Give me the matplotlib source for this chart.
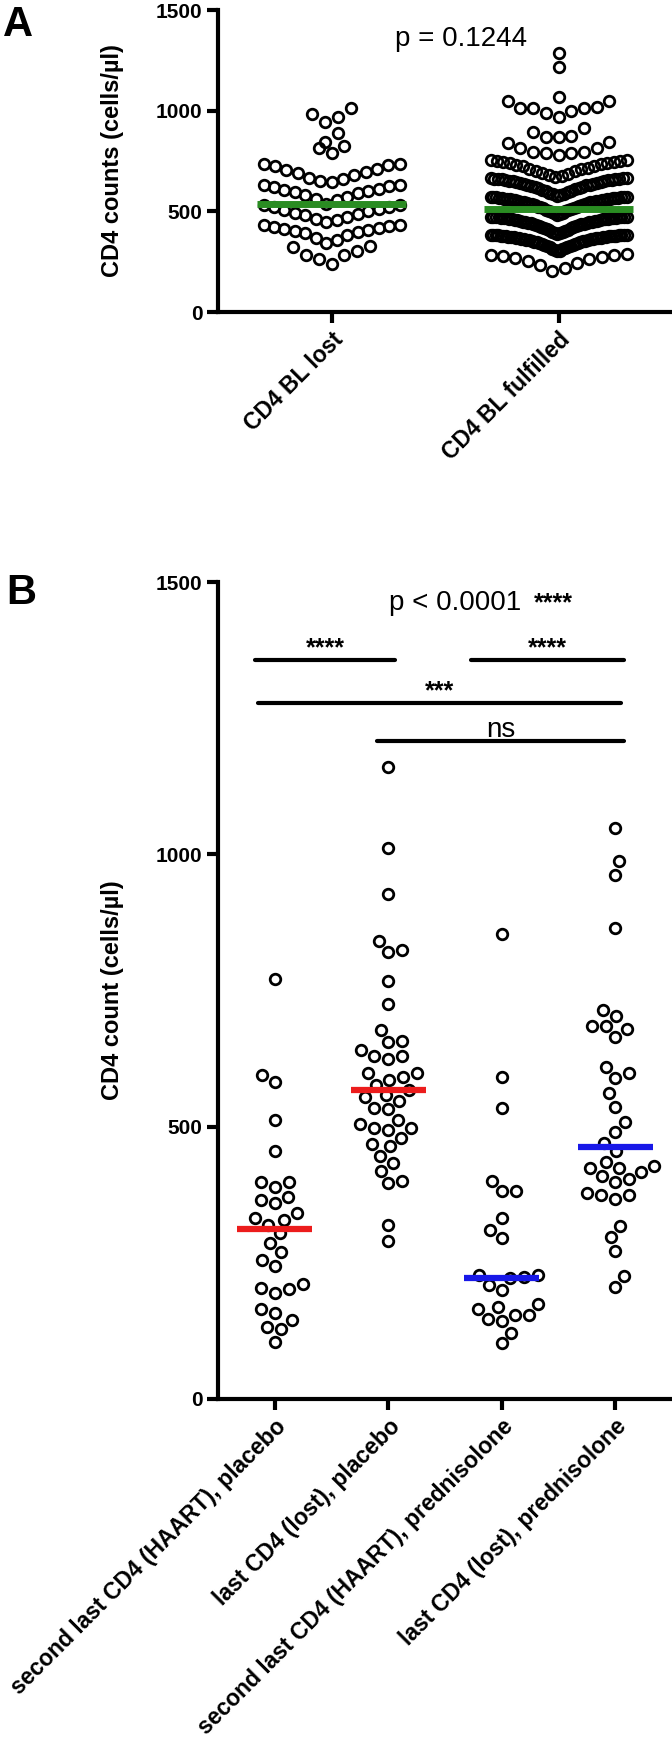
import numpy as np
import matplotlib
matplotlib.use("Agg")
import matplotlib.pyplot as plt

plt.rcParams['font.family'] = ['Liberation Sans', 'DejaVu Sans']

# ---- panel A: CD4 counts (cells/ul)
a_labels = ["CD4 BL lost", "CD4 BL fulfilled"]
a_lost = [1011, 983, 967, 945, 887, 846, 826, 813, 788,
          733, 734, 726, 711, 697, 681, 662, 645, 651, 668, 688, 706, 728,
          631, 624, 612, 601, 590, 572, 555, 537, 560, 580, 596, 608, 620, 629,
          531, 524, 512, 500, 488, 472, 455, 448, 462, 480, 494, 508, 520, 530,
          432, 428, 418, 408, 396, 380, 360, 341, 370, 390, 404, 414, 424, 431,
          330, 305, 283, 238, 265, 283, 322]
a_fulfilled = [1288, 1219, 1070,
               1048, 1020, 1011, 1000, 970, 987, 1011, 1011, 1046,
               912, 895, 874, 870, 870,
               846, 838, 813, 813, 797, 788, 780, 788, 797,
               755, 752, 748, 744, 740, 735, 730, 724, 716, 708, 700, 690, 680, 672,
               676, 686, 698, 712, 726, 738, 746, 754,
               664, 662, 659, 655, 651, 646, 641, 636, 630, 622, 614, 605, 595, 585,
               578, 582, 592, 602, 612, 621, 629, 636, 643, 649, 654, 658, 661, 663,
               667, 665, 660, 653, 644, 633, 618, 600, 588, 625,
               572, 571, 569, 567, 564, 561, 558, 555, 552, 548, 544, 540, 535, 530,
               524, 517, 509, 500, 490, 482, 486, 495, 504, 512, 520, 527, 533, 538,
               543, 547, 551, 554, 557, 560, 563, 566, 568, 570,
               573, 571, 565, 559, 549, 537, 521, 505, 493, 515, 546, 562,
               472, 471, 470, 469, 467, 465, 463, 461, 458, 455, 452, 449, 446, 443,
               440, 437, 433, 429, 424, 419, 413, 406, 399, 392, 388, 390, 395, 402,
               409, 416, 421, 426, 431, 435, 439, 442, 445, 448, 451, 454, 457, 460,
               462, 464, 466, 468, 469, 470, 471, 472, 473, 474,
               382, 381, 380, 379, 378, 376, 374, 372, 370, 368, 365, 362, 359, 356,
               352, 348, 343, 338, 332, 325, 317, 309, 302, 305, 313, 321, 328, 335,
               341, 346, 350, 354, 358, 361, 364, 367, 369, 371, 373, 375, 377, 378,
               379, 380, 381, 383,
               384, 382, 377, 366, 351, 330, 312, 340,
               288, 285, 279, 268, 252, 232, 203, 218, 245, 262, 274, 283]
a_p = "p = 0.1244"

# ---- panel B
b_labels = ["second last CD4 (HAART), placebo", "last CD4 (lost), placebo",
            "second last CD4 (HAART), prednisolone", "last CD4 (lost), prednisolone"]
b_sec_placebo = [771, 594, 582, 512, 456, 399, 390, 398, 359, 365, 371, 341, 332, 329,
                 319, 304, 286, 269, 255, 245, 203, 194, 202, 211, 157, 145, 166, 132,
                 129, 105]
b_last_placebo = [1161, 1011, 928, 840, 824, 820, 767, 725, 678, 657, 655, 640, 629, 629,
                  624, 599, 598, 592, 586, 576, 567, 558, 555, 548, 535, 532, 512, 505,
                  498, 497, 493, 480, 468, 464, 446, 433, 419, 401, 396, 319, 290]
b_sec_pred = [853, 592, 535, 400, 381, 381, 332, 310, 295, 228, 222, 200, 210, 224,
              228, 168, 154, 146, 143, 154, 165, 175, 122, 102]
b_last_pred = [1048, 987, 962, 865, 714, 703, 685, 685, 679, 664, 610, 599, 590, 561,
               537, 508, 490, 470, 455, 436, 428, 424, 424, 417, 410, 403, 399, 379,
               375, 374, 367, 318, 297, 272, 226, 205]
b_p = "p < 0.0001"
b_p_stars = "****"
b_comp_text = ["****", "****", "***", "ns"]

# layout of comparison bars (x span, height)
bar_spans = [(-0.17, 1.06), (1.73, 3.08), (-0.15, 3.05), (0.9, 3.08)]
bar_y = [1357, 1357, 1278, 1208]

W, H = 672, 1739
fig = plt.figure(figsize=(W / 100, H / 100), dpi=100)


def px_scale(ax):
    p0 = ax.transData.transform((0, 0))
    p1 = ax.transData.transform((1, 1))
    return p1[0] - p0[0], p1[1] - p0[1]


def row_layout(vals, origin, step, spacing, half):
    # graphpad style rows: values binned, lowest in middle of each row
    vals = np.asarray(vals, float)
    xs = np.zeros(len(vals))
    bins = np.floor((vals - origin) / step).astype(int)
    for b in np.unique(bins):
        idx = np.where(bins == b)[0]
        idx = idx[np.argsort(vals[idx], kind='stable')]
        n = len(idx)
        s = spacing if n < 2 else min(spacing, 2 * half / (n - 1))
        slots = (np.arange(n) - (n - 1) / 2) * s
        order = np.argsort(np.abs(slots) + 1e-9 * np.arange(n))
        xs[idx] = slots[order]
    return xs


def swarm(vals, ypx, dpx, maxpx):
    vals = np.asarray(vals, float)
    xs = np.zeros(len(vals))
    placed = []
    side = 1
    for i in np.argsort(vals):
        y = vals[i] * ypx
        best = 0
        for k in range(0, int(maxpx) + 1):
            cands = [0] if k == 0 else [side * k, -side * k]
            ok = None
            for off in cands:
                if all((off - px) ** 2 + (y - py) ** 2 >= dpx ** 2 for px, py in placed):
                    ok = off
                    break
            if ok is not None:
                best = ok
                break
        if best != 0:
            side = -np.sign(best)
        xs[i] = best
        placed.append((best, y))
    return xs


def style(ax):
    for s in ['top', 'right']:
        ax.spines[s].set_visible(False)
    for s in ['left', 'bottom']:
        ax.spines[s].set_linewidth(3)
    ax.set_ylim(0, 1500)
    ax.set_yticks([0, 500, 1000, 1500])
    ax.tick_params(width=3, length=8, labelsize=15)
    ax.tick_params(axis='y', pad=3)
    for t in ax.get_yticklabels():
        t.set_fontweight('bold')


mk = dict(ls='none', marker='o', ms=7.6, mew=2.0, mfc='none', mec='black', zorder=2)

# ---------- panel A
axA = fig.add_axes([218 / W, 1 - 312 / H, (W - 218) / W, (312 - 10) / H])
axA.set_xlim(-0.5, 1.5)
style(axA)
sx, sy = px_scale(axA)
for i, (vals, origin, step) in enumerate([(a_lost, 236, 100), (a_fulfilled, 195, 95)]):
    off = row_layout(vals, origin, step, 12.7 / sx, 68 / sx)
    axA.plot(i + off, vals, **mk)
    axA.plot([i - 0.33, i + 0.33], [np.median(vals)] * 2, color='#2a8c22', lw=5,
             solid_capstyle='butt', zorder=3)
axA.set_xticks([0, 1])
axA.set_xticklabels(a_labels, rotation=45, ha='right', va='top',
                    rotation_mode='anchor', fontsize=16.5, fontweight='bold')
axA.text(0.571, 1321, a_p, fontsize=20, ha='center', va='baseline')

# ---------- panel B
axB = fig.add_axes([218 / W, 1 - 1399 / H, (W - 218) / W, (1399 - 582) / H])
axB.set_xlim(-0.5, 3.5)
style(axB)
sx, sy = px_scale(axB)
b_sets = [b_sec_placebo, b_last_placebo, b_sec_pred, b_last_pred]
b_colors = ['#ec1c1c', '#ec1c1c', '#1818e8', '#1818e8']
for i, vals in enumerate(b_sets):
    off = swarm(vals, sy, 14, 45)
    axB.plot(i + off / sx, vals, **mk)
    axB.plot([i - 0.33, i + 0.33], [np.median(vals)] * 2, color=b_colors[i], lw=4.5,
             solid_capstyle='butt', zorder=3)
axB.set_xticks(range(4))
axB.set_xticklabels(b_labels, rotation=45, ha='right', va='top',
                    rotation_mode='anchor', fontsize=16.5, fontweight='bold')

for (x0, x1), y, txt in zip(bar_spans, bar_y, b_comp_text):
    axB.plot([x0, x1], [y, y], color='black', lw=3, solid_capstyle='round', clip_on=False)
    if txt == 'ns':
        axB.text((x0 + x1) / 2, y + 8, txt, fontsize=20, ha='center', va='baseline')
    else:
        axB.text((x0 + x1) / 2, y + 8, txt, fontsize=18, fontweight='bold',
                 ha='center', va='baseline')
axB.text(1.588, 1449, b_p, fontsize=20, ha='center', va='baseline')
axB.text(2.287, 1483, b_p_stars, fontsize=18, fontweight='bold', ha='left', va='top')

# axis titles and panel letters
fig.text(112 / W, 1 - 161 / H, "CD4 counts (cells/µl)", rotation=90, fontsize=17,
         fontweight='bold', ha='center', va='center')
fig.text(112 / W, 1 - 990 / H, "CD4 count (cells/µl)", rotation=90, fontsize=17,
         fontweight='bold', ha='center', va='center')
fig.text(3 / W, 1 - 36 / H, "A", fontsize=30, fontweight='bold', ha='left', va='baseline')
fig.text(6 / W, 1 - 604 / H, "B", fontsize=30, fontweight='bold', ha='left', va='baseline')

fig.savefig("out.png", dpi=100)
